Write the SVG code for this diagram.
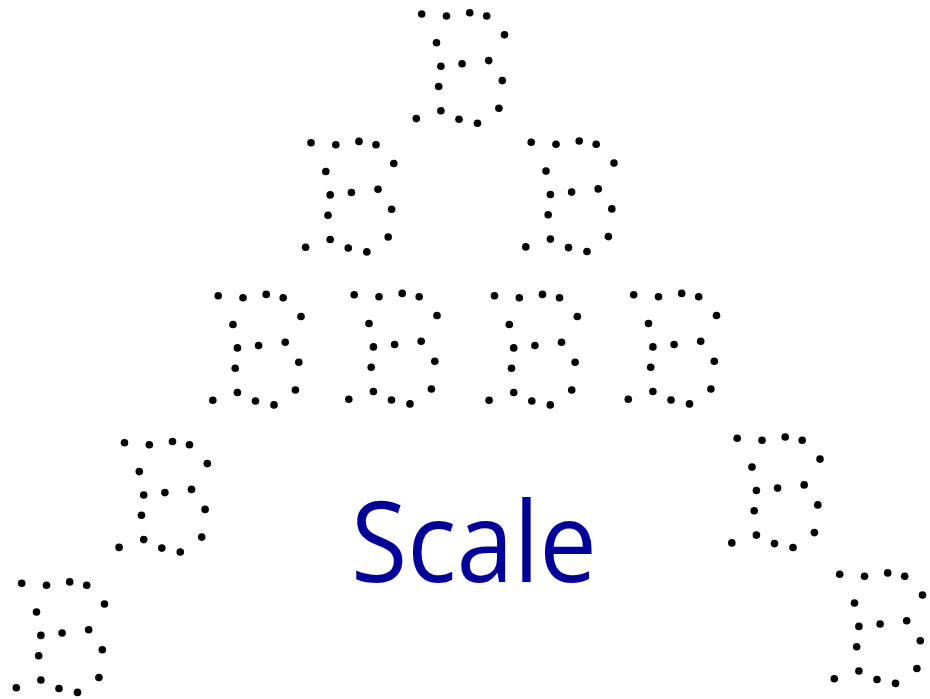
<svg xmlns="http://www.w3.org/2000/svg" xmlns:xlink="http://www.w3.org/1999/xlink" width="930" height="699" viewBox="0 0 930 699">
<style>
.dot{fill:#000}
.label{font-family:"Open Sans","Liberation Sans","DejaVu Sans",sans-serif;font-size:112px;font-weight:400;fill:#000099}
</style>
<defs>
<g id="dottedB">
<circle class="dot" cx="0" cy="0" r="3.8"/>
<circle class="dot" cx="24.8" cy="2" r="3.8"/>
<circle class="dot" cx="48" cy="-1.3" r="3.8"/>
<circle class="dot" cx="65" cy="2" r="3.8"/>
<circle class="dot" cx="82.8" cy="20.8" r="3.8"/>
<circle class="dot" cx="14.8" cy="28.8" r="3.8"/>
<circle class="dot" cx="19.2" cy="52.2" r="3.8"/>
<circle class="dot" cx="40.4" cy="49.8" r="3.8"/>
<circle class="dot" cx="67" cy="46.6" r="3.8"/>
<circle class="dot" cx="80.6" cy="66.6" r="3.8"/>
<circle class="dot" cx="17" cy="72.5" r="3.8"/>
<circle class="dot" cx="19.2" cy="96.8" r="3.8"/>
<circle class="dot" cx="77.2" cy="94.3" r="3.8"/>
<circle class="dot" cx="-5.4" cy="104.6" r="3.8"/>
<circle class="dot" cx="37.3" cy="105.3" r="3.8"/>
<circle class="dot" cx="55.8" cy="109.2" r="3.8"/>
</g>
</defs>
<g id="b-top"><use href="#dottedB" xlink:href="#dottedB" transform="translate(421.7,14)"/></g>
<g id="b-r2-left"><use href="#dottedB" xlink:href="#dottedB" transform="translate(311,142.7)"/></g>
<g id="b-r2-right"><use href="#dottedB" xlink:href="#dottedB" transform="translate(531.2,142.3)"/></g>
<g id="b-r3-1"><use href="#dottedB" xlink:href="#dottedB" transform="translate(218.2,295.7)"/></g>
<g id="b-r3-2"><use href="#dottedB" xlink:href="#dottedB" transform="translate(354.2,294.7)"/></g>
<g id="b-r3-3"><use href="#dottedB" xlink:href="#dottedB" transform="translate(494.5,295.7)"/></g>
<g id="b-r3-4"><use href="#dottedB" xlink:href="#dottedB" transform="translate(633.7,294.7)"/></g>
<g id="b-r4-left"><use href="#dottedB" xlink:href="#dottedB" transform="translate(124.5,442.8)"/></g>
<g id="b-r4-right"><use href="#dottedB" xlink:href="#dottedB" transform="translate(737.2,438.3)"/></g>
<g id="b-r5-left"><use href="#dottedB" xlink:href="#dottedB" transform="translate(21.7,583.2)"/></g>
<g id="b-r5-right"><use href="#dottedB" xlink:href="#dottedB" transform="translate(839.7,574.2)"/></g>
<g id="connectors"></g>
<g id="label"><text class="label" x="351" y="582" textLength="246" lengthAdjust="spacingAndGlyphs">Scale</text></g>
</svg>
